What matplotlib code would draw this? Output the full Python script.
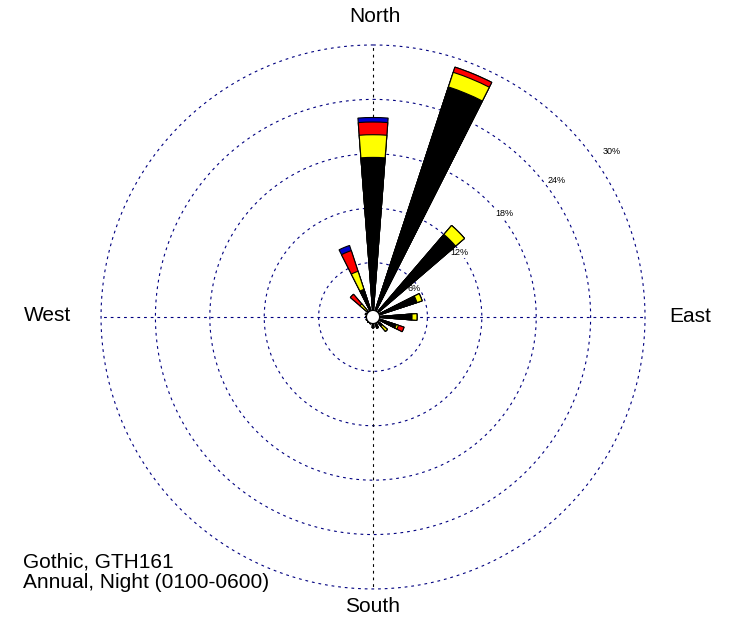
import numpy as np
import matplotlib
matplotlib.use("Agg")
import matplotlib.pyplot as plt

plt.rcParams['font.family'] = ['Liberation Sans', 'DejaVu Sans']

# 16 wind directions, degrees clockwise from north
directions = ["N", "NNE", "NE", "ENE", "E", "ESE", "SE", "SSE",
              "S", "SSW", "SW", "WSW", "W", "WNW", "NW", "NNW"]
angles_deg = [0, 22.5, 45, 67.5, 90, 112.5, 135, 157.5,
              180, 202.5, 225, 247.5, 270, 292.5, 315, 337.5]

# cumulative frequency (%) per speed class
class_1 = [17.6, 26.7, 12.0, 5.1, 4.3, 2.7, 1.3, 1.3, 1.2, 0.8, 0.8, 0.8, 0.8, 0.9, 0.9, 3.2]
class_2 = [20.1, 28.4, 13.3, 5.7, 4.85, 2.95, 2.1, 1.3, 1.2, 0.8, 0.8, 0.8, 0.8, 0.9, 1.9, 5.3]
class_3 = [21.5, 29.0, 13.3, 5.7, 4.85, 3.6, 2.1, 1.3, 1.2, 0.8, 0.8, 0.8, 0.8, 0.9, 3.3, 7.7]
class_4 = [22.0, 29.0, 13.3, 5.7, 4.85, 3.6, 2.1, 1.3, 1.2, 0.8, 0.8, 0.8, 0.8, 0.9, 3.3, 8.3]
class_colors = ["black", "#ffff00", "#ff0000", "#0000cc"]

rings = [6, 12, 18, 24, 30]
ring_labels = ["6%", "12%", "18%", "24%", "30%"]
ring_label_r = [5.5, 11.9, 18.5, 25.2, 32.0]
ring_label_ang = [55, 53.5, 51.8, 53.4, 55.3]

calm_r = 0.72

fig = plt.figure(figsize=(7.33, 6.22), dpi=100)
ax = fig.add_axes([0.1378, 0.0531, 0.7422, 0.8746], projection='polar')
ax.set_theta_zero_location('N')
ax.set_theta_direction(-1)
ax.set_ylim(0, 30)
ax.grid(False)
ax.set_xticks([])
ax.set_yticks([])
ax.spines['polar'].set_visible(False)
ax.patch.set_alpha(0)

theta = np.radians(angles_deg)
width = np.radians(8.7)
dash = (0, (2.5, 3.5))

# rings
tt = np.linspace(0, 2 * np.pi, 400)
for r in rings:
    ax.plot(tt, np.full_like(tt, r), color='#000080', lw=0.8,
            linestyle=dash, zorder=1, clip_on=False)

# axis lines
for a, c in [(0, 'black'), (np.pi, 'black'), (np.pi / 2, '#000080'), (3 * np.pi / 2, '#000080')]:
    ax.plot([a, a], [0, 30], color=c, lw=0.8, linestyle=dash, zorder=1, clip_on=False)

# ring labels sit under the petals but over the rings
for r, lab, a in zip(ring_label_r, ring_labels, ring_label_ang):
    ax.text(np.radians(a), r, lab, fontsize=6.5, ha='center', va='center', zorder=2,
            bbox=dict(facecolor='white', edgecolor='none', pad=0.2))

# petals, drawn from outermost class inwards
levels = [class_1, class_2, class_3, class_4]
for vals, col in reversed(list(zip(levels, class_colors))):
    ax.bar(theta, vals, width=width, bottom=0, color=col,
           edgecolor='black', linewidth=0.8, zorder=3)

# calm circle
ax.fill(tt, np.full_like(tt, calm_r), facecolor='white', edgecolor='black',
        lw=0.8, zorder=5)

fig.text(375 / 733, 1 - 16 / 622, "North", fontsize=15, ha='center', va='center')
fig.text(373 / 733, 1 - 606 / 622, "South", fontsize=15, ha='center', va='center')
fig.text(48 / 733, 1 - 315 / 622, "West", fontsize=15, ha='center', va='center')
fig.text(690 / 733, 1 - 317 / 622, "East", fontsize=15, ha='center', va='center')
fig.text(23 / 733, 1 - 562 / 622, "Gothic, GTH161", fontsize=15, ha='left', va='center')
fig.text(23 / 733, 1 - 582 / 622, "Annual, Night (0100-0600)", fontsize=15, ha='left', va='center')

fig.savefig("out.png", dpi=100)
